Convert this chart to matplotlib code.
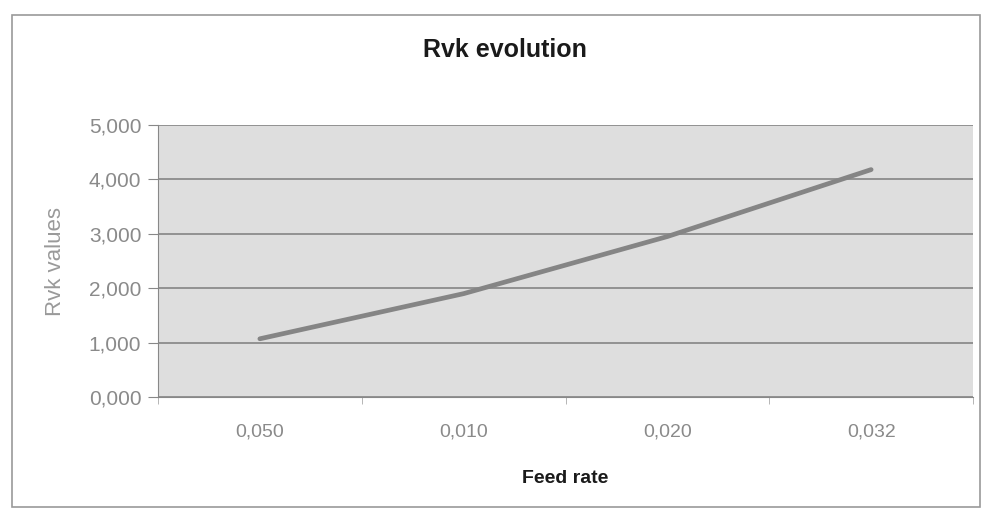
import matplotlib
matplotlib.use("Agg")
import matplotlib.pyplot as plt
from matplotlib.patches import Rectangle
from matplotlib.ticker import FuncFormatter
import numpy as np

plt.rcParams['font.family'] = ['Liberation Sans', 'DejaVu Sans']

feed_rates = ['0,050', '0,010', '0,020', '0,032']
rvk_values = [1.07, 1.90, 2.95, 4.18]

fig = plt.figure(figsize=(9.85, 5.16), dpi=100)
fig.patch.set_facecolor('white')

# outer chart frame
fig.patches.append(Rectangle((12 / 985, 1 - 507 / 516), 968 / 985, 492 / 516,
                             transform=fig.transFigure, fill=False,
                             edgecolor='#9a9a9a', linewidth=1.2))

ax = fig.add_axes([158 / 985, 1 - 397 / 516, 815 / 985, 272 / 516])
ax.set_facecolor('#dedede')

x = np.arange(len(feed_rates))
ax.plot(x, rvk_values, color='#858585', linewidth=3.4, solid_capstyle='round', zorder=3)

ax.set_xlim(-0.5, len(feed_rates) - 0.5)
ax.set_ylim(0, 5)
ax.set_yticks(np.arange(0, 6, 1))
ax.yaxis.set_major_formatter(FuncFormatter(lambda v, p: f"{v:.3f}".replace('.', ',')))
ax.grid(axis='y', color='#858585', linewidth=1.2)
ax.set_axisbelow(True)

ax.set_xticks(x)
ax.set_xticklabels(feed_rates)
ax.set_xticks(np.arange(-0.5, len(feed_rates)), minor=True)
ax.tick_params(axis='x', which='major', length=0, pad=19, labelsize=14, labelcolor='#8a8a8a')
ax.tick_params(axis='x', which='minor', length=5, color='#aaaaaa')
ax.tick_params(axis='y', length=7, color='#888888', labelsize=15, labelcolor='#8a8a8a', pad=5)

for side in ['top', 'right']:
    ax.spines[side].set_visible(False)
ax.spines['left'].set_color('#888888')
ax.spines['bottom'].set_color('#888888')

ax.set_ylabel('Rvk values', color='#9a9a9a', fontsize=16, va='center')
ax.yaxis.set_label_coords(-0.126, 0.5)
ax.set_xlabel('Feed rate', fontsize=14, fontweight='bold', color='#1a1a1a', va='center')
ax.xaxis.set_label_coords(0.5, -0.298)
fig.text(505 / 985, 1 - 50 / 516, 'Rvk evolution', ha='center', va='center',
         fontsize=18, fontweight='bold', color='#1a1a1a')

fig.savefig('out.png', dpi=100)
